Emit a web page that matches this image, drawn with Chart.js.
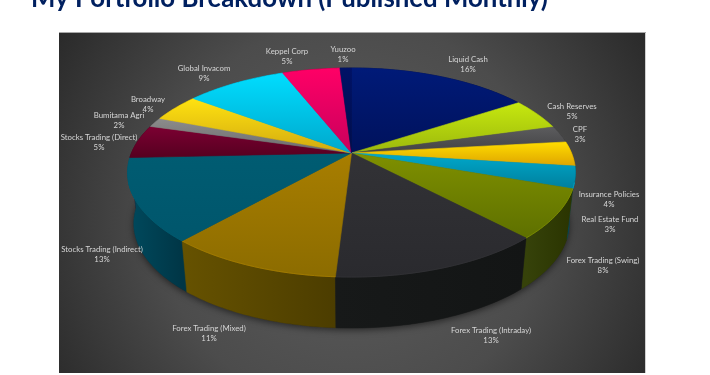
<!DOCTYPE html>
<html><head><meta charset="utf-8">
<script src="https://cdn.jsdelivr.net/npm/chart.js@4"></script>
<style>html,body{margin:0;padding:0;background:#fff;overflow:hidden}#w{position:absolute;left:0;top:0;width:710px;height:375px}</style>
</head><body><div id="w"><canvas id="c" width="710" height="375"></canvas></div>
<script>
const titleText = 'My Portfolio Breakdown (Published Monthly)';
const categories = ['Liquid Cash','Cash Reserves','CPF','Insurance Policies','Real Estate Fund','Forex Trading (Swing)','Forex Trading (Intraday)','Forex Trading (Mixed)','Stocks Trading (Indirect)','Stocks Trading (Direct)','Bumitama Agri','Broadway','Global Invacom','Keppel Corp','Yuuzoo'];
const values = [15.8,4.9,2.6,3.8,3.4,7.6,13,10.6,12.8,5.2,1.5,4.3,8.8,5,1];
const percentLabels = ['16%','5%','3%','4%','3%','8%','13%','11%','13%','5%','2%','4%','9%','5%','1%'];
// top-face gradient: light, dark; side wall: light, dark
const faceLight = ['#001a78','#c6e80f','#5c5c5e','#ffdc00','#00a9cc','#7f9000','#323236','#a87e00','#005c72','#7c0032','#8c8c8c','#ffe210','#00ddff','#ff0066','#001266'];
const faceDark  = ['#00125c','#9cb80c','#424244','#dea400','#007f9c','#5e7000','#2a2a2e','#8c6c00','#00566c','#560020','#6c6c6c','#d2aa10','#00a8cc','#c8005c','#000e4c'];
const wallLight = ['#000c3c','#66780a','#2c2c2c','#806800','#004a5c','#36420a','#171919','#665200','#004a5e','#3c0018','#444','#806c08','#006c80','#800030','#000c3c'];
const wallDark  = ['#00082c','#4c5a06','#1e1e1e','#604e00','#003444','#2a3400','#131515','#4c3d00','#003646','#2c0010','#333','#605000','#005060','#600024','#00082c'];
// text layout: centre x, first-line y
const labelLayout = [[468,59],[572,106],[580,129],[609,194],[610,219],[603,260],[491,330],[209,328],[102,249],[99,137],[119,115],[148,99],[204,68],[287,51],[343,49]];

const P = {panel:[59,33,645,373], ax:1.2986, ay:0.606, skew:-0.187, depth:51, taper:0.972};

const pie3d = {
  id:'pie3d',
  beforeDraw(chart){
    const c=chart.ctx,[x0,y0,x1,y1]=P.panel;
    c.save();
    const g=c.createRadialGradient(352,215,40,352,215,350);
    g.addColorStop(0,'#5a5a5a');g.addColorStop(0.5,'#4c4c4c');g.addColorStop(1,'#292929');
    c.fillStyle=g;c.fillRect(x0,y0,x1-x0,y1-y0);
    c.fillStyle='#a8a8a8';c.fillRect(x0,y0-1,x1-x0+1,1);
    c.fillStyle='#d0d0d0';c.fillRect(x1,y0,1,y1-y0);
    c.fillStyle='#002060';c.font='bold 25.8px Lato';c.textAlign='left';c.textBaseline='alphabetic';
    c.fillText(titleText,31,7);
    c.restore();
  },
  beforeDatasetsDraw(chart){
    const c=chart.ctx,arcs=chart.getDatasetMeta(0).data;
    const r=arcs[0].outerRadius,cx=arcs[0].x,cy=arcs[0].y,rx=r*P.ax,ry=r*P.ay,a=P.skew,s=Math.sqrt(1-a*a);
    const proj=t=>{const th=t+Math.PI/2,u=Math.sin(th),v=-Math.cos(th),d=1+a*v;return [cx+rx*u*s/d,cy+ry*(v+a)/d];};
    const apex=[cx,cy+ry*a];
    const low=p=>[cx+(p[0]-cx)*P.taper,p[1]+P.depth];
    const rim=(e)=>{const pts=[];const n=Math.max(2,Math.ceil((e.endAngle-e.startAngle)/0.02));for(let i=0;i<=n;i++)pts.push(proj(e.startAngle+(e.endAngle-e.startAngle)*i/n));return pts;};
    const order=arcs.map((e,i)=>i).sort((p,q)=>proj((arcs[p].startAngle+arcs[p].endAngle)/2)[1]-proj((arcs[q].startAngle+arcs[q].endAngle)/2)[1]);
    c.save();
    // soft shadow under the drum, then walls
    c.save();c.shadowColor='rgba(0,0,0,0.55)';c.shadowBlur=7;c.shadowOffsetY=2;c.fillStyle='#222';
    c.beginPath();for(let k=0;k<=200;k++){const p=low(proj(k/200*2*Math.PI));k?c.lineTo(p[0],p[1]):c.moveTo(p[0],p[1]);}c.closePath();c.fill();c.restore();
    order.forEach(i=>{
      const pts=rim(arcs[i]);
      const xs=pts.map(p=>p[0]);const g=c.createLinearGradient(Math.min(...xs),0,Math.max(...xs),0);
      g.addColorStop(0,wallLight[i]);g.addColorStop(1,wallDark[i]);
      c.fillStyle=g;c.strokeStyle=g;c.lineWidth=0.5;
      c.beginPath();pts.forEach((p,k)=>k?c.lineTo(p[0],p[1]):c.moveTo(p[0],p[1]));
      pts.slice().reverse().forEach(p=>{const q=low(p);c.lineTo(q[0],q[1]);});
      c.closePath();c.fill();c.stroke();
    });
    // top faces
    arcs.forEach((e,i)=>{
      const pts=rim(e);const ys=pts.map(p=>p[1]).concat(apex[1]);
      const g=c.createLinearGradient(0,Math.min(...ys),0,Math.max(...ys));
      g.addColorStop(0,faceLight[i]);g.addColorStop(1,faceDark[i]);
      c.fillStyle=g;c.strokeStyle=g;c.lineWidth=0.6;
      c.beginPath();c.moveTo(apex[0],apex[1]);pts.forEach(p=>c.lineTo(p[0],p[1]));c.closePath();c.fill();c.stroke();
      const front=pts.filter(p=>p[1]>cy+8);
      if(front.length>1){c.strokeStyle=faceLight[i];c.globalAlpha=0.8;c.lineWidth=1;c.beginPath();front.forEach((p,k)=>k?c.lineTo(p[0],p[1]):c.moveTo(p[0],p[1]));c.stroke();c.globalAlpha=1;}
    });
    c.restore();
    return false;
  },
  afterDraw(chart){
    const c=chart.ctx;c.save();
    c.font='7.8px Lato';c.fillStyle='#d6d6d6';c.textAlign='center';c.textBaseline='middle';
    categories.forEach((t,i)=>{const [x,y]=labelLayout[i];c.fillText(t,x,y);c.fillText(percentLabels[i],x,y+10);});
    c.restore();
  }
};

new Chart(document.getElementById('c'),{
  type:'pie',
  data:{labels:categories,datasets:[{data:values,backgroundColor:faceLight,borderWidth:0}]},
  options:{responsive:false,animation:false,layout:{padding:{left:0,right:7,top:0,bottom:30}},
    plugins:{legend:{display:false},tooltip:{enabled:false},title:{display:false}}},
  plugins:[pie3d]
});
</script></body></html>
